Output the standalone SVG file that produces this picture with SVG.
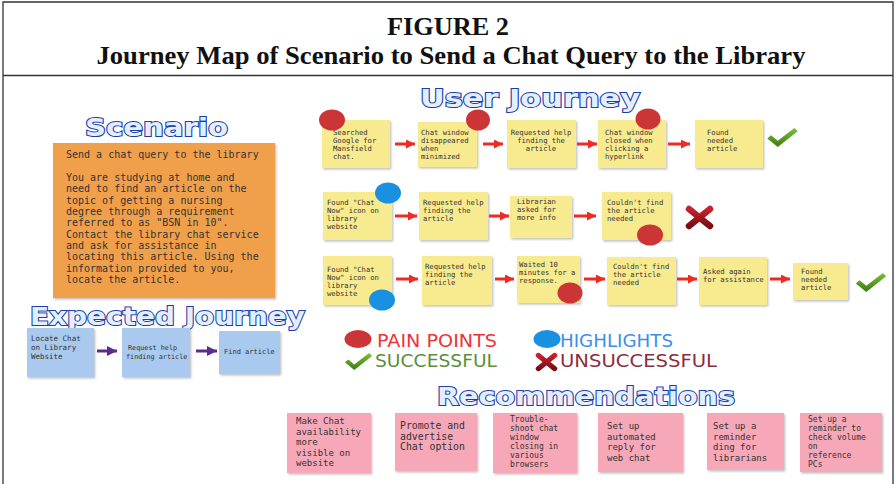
<svg xmlns="http://www.w3.org/2000/svg" width="896" height="484" viewBox="0 0 896 484">
<defs>
<style>
.frame{stroke:#333;stroke-width:1.3;fill:none}
.ttl{font-family:"Liberation Serif",serif;font-weight:bold;font-size:25px;fill:#111;text-anchor:middle}
.head{font-family:"DejaVu Sans",sans-serif;font-weight:bold;font-size:25px;fill:#e4eeff;stroke:#1a3fa8;stroke-width:2;paint-order:stroke}
.note{font-family:"DejaVu Sans Mono",monospace;font-size:7.2px;fill:#333}
.yel{fill:#F8EA8E;filter:url(#sh)}
.org{fill:#F0A04C;filter:url(#sh)}
.blu{fill:#A9C9EF;filter:url(#sh)}
.pnk{fill:#F6A8B8;filter:url(#sh)}
.pain{fill:#CC3535}
.hl{fill:#1A90E0}
.ra{stroke:#EE2A24;stroke-width:3;fill:none;marker-end:url(#ar)}
.pa{stroke:#5B2C8C;stroke-width:3;fill:none;marker-end:url(#ap)}
.leg{font-family:"DejaVu Sans",sans-serif;font-size:17px}
</style>
<filter id="sh" x="-10%" y="-10%" width="125%" height="125%">
<feDropShadow dx="1.2" dy="1.5" stdDeviation="1.2" flood-color="#000" flood-opacity="0.25"/>
</filter>
<marker id="ar" viewBox="0 0 10 10" refX="10" refY="5" markerWidth="9" markerHeight="9" markerUnits="userSpaceOnUse" orient="auto"><path d="M0,0 L10,5 L0,10 z" fill="#EE2A24"/></marker>
<marker id="ap" viewBox="0 0 10 10" refX="10" refY="5" markerWidth="10" markerHeight="10" markerUnits="userSpaceOnUse" orient="auto"><path d="M0,0 L10,5 L0,10 z" fill="#5B2C8C"/></marker>
<linearGradient id="gg" x1="0" y1="0" x2="0" y2="1"><stop offset="0" stop-color="#7CC23A"/><stop offset="1" stop-color="#3E7A10"/></linearGradient>
<linearGradient id="rg" x1="0" y1="0" x2="0" y2="1"><stop offset="0" stop-color="#C8222E"/><stop offset="1" stop-color="#7A0C14"/></linearGradient>
<symbol id="chk" viewBox="0 0 32 20" overflow="visible"><path d="M0,11 L4,7.5 L11,13.5 L28.5,0 L32,3.5 L11,20 Z" fill="url(#gg)"/></symbol>
<symbol id="xx" viewBox="0 0 27 23" overflow="visible"><path d="M3,3 L24,20 M24,3 L3,20" stroke="url(#rg)" stroke-width="6.5" stroke-linecap="round" fill="none"/></symbol>
</defs>

<rect width="896" height="484" fill="#fff"/>
<g id="frame">
<path class="frame" d="M3,484 L3,2 L893,2 L893,484 M3,75.5 L893,75.5"/>
<text class="ttl" x="448" y="35" textLength="122" lengthAdjust="spacingAndGlyphs">FIGURE 2</text>
<text class="ttl" x="451" y="64" textLength="709" lengthAdjust="spacingAndGlyphs">Journey Map of Scenario to Send a Chat Query to the Library</text>
</g>

<g id="headings">
<text class="head" x="85" y="136" textLength="143" lengthAdjust="spacingAndGlyphs">Scenario</text>
<text class="head" x="420" y="107" textLength="220" lengthAdjust="spacingAndGlyphs">User Journey</text>
<text class="head" x="30" y="325" textLength="275" lengthAdjust="spacingAndGlyphs">Expected Journey</text>
<text class="head" x="437" y="405" textLength="298" lengthAdjust="spacingAndGlyphs">Recommendations</text>
</g>

<g id="scenario">
<rect class="org" x="53" y="143" width="222" height="155"/>
<text style="font-family:'DejaVu Sans Mono',monospace;font-size:10px;fill:#333">
<tspan x="66" y="158">Send a chat query to the library</tspan>
<tspan x="66" y="181">You are studying at home and</tspan>
<tspan x="66" y="192">need to find an article on the</tspan>
<tspan x="66" y="203.5">topic of getting a nursing</tspan>
<tspan x="66" y="215">degree through a requirement</tspan>
<tspan x="66" y="226">referred to as "BSN in 10".</tspan>
<tspan x="66" y="237.5">Contact the library chat service</tspan>
<tspan x="66" y="249">and ask for assistance in</tspan>
<tspan x="66" y="260">locating this article. Using the</tspan>
<tspan x="66" y="271.5">information provided to you,</tspan>
<tspan x="66" y="283">locate the article.</tspan>
</text>
</g>

<g id="expected">
<g id="e1"><rect class="blu" x="27" y="328" width="67" height="49"/><text class="note" style="font-size:7.5px"><tspan x="31" y="341">Locate Chat</tspan><tspan x="31" y="350">on Library</tspan><tspan x="31" y="359">Website</tspan></text></g>
<g id="e2"><rect class="blu" x="122" y="328" width="68" height="49"/><text class="note" style="font-size:6.8px"><tspan x="128" y="350">Request help</tspan><tspan x="126" y="359">finding article</tspan></text></g>
<g id="e3"><rect class="blu" x="219" y="331" width="61" height="43"/><text class="note" style="font-size:7px"><tspan x="224" y="354">Find article</tspan></text></g>
</g>

<g id="row1">
<g id="u11"><rect class="yel" x="322" y="120" width="68" height="48"/><text class="note"><tspan x="333" y="135">Searched</tspan><tspan x="333" y="143">Google for</tspan><tspan x="333" y="151">Mansfield</tspan><tspan x="333" y="159">chat.</tspan></text><ellipse class="pain" cx="332" cy="120" rx="13" ry="10.5"/></g>
<g id="u12"><rect class="yel" x="418" y="122" width="59" height="45"/><text class="note"><tspan x="421" y="135">Chat window</tspan><tspan x="421" y="143">disappeared</tspan><tspan x="421" y="151">when</tspan><tspan x="421" y="159">minimized</tspan></text><ellipse class="pain" cx="478" cy="120" rx="12" ry="10.5"/></g>
<g id="u13"><rect class="yel" x="507" y="120" width="69" height="48"/><text class="note" text-anchor="middle"><tspan x="541" y="135">Requested help</tspan><tspan x="541" y="143">finding the</tspan><tspan x="541" y="151">article</tspan></text></g>
<g id="u14"><rect class="yel" x="598" y="120" width="68" height="48"/><text class="note"><tspan x="605" y="135">Chat window</tspan><tspan x="605" y="143">closed when</tspan><tspan x="605" y="151">clicking a</tspan><tspan x="605" y="159">hyperlink</tspan></text><ellipse class="pain" cx="648" cy="119" rx="12.5" ry="10.5"/></g>
<g id="u15"><rect class="yel" x="695" y="120" width="68" height="48"/><text class="note"><tspan x="707" y="135">Found</tspan><tspan x="707" y="143">needed</tspan><tspan x="707" y="151">article</tspan></text></g>
<use href="#chk" x="767" y="128" width="31" height="19"/>
</g>

<g id="row2">
<g id="u21"><rect class="yel" x="323" y="192" width="69" height="48"/><text class="note"><tspan x="327" y="205">Found "Chat</tspan><tspan x="327" y="213">Now" icon on</tspan><tspan x="327" y="221">library</tspan><tspan x="327" y="229">website</tspan></text><ellipse class="hl" cx="388" cy="193" rx="13" ry="10.5"/></g>
<g id="u22"><rect class="yel" x="419" y="192" width="69" height="48"/><text class="note"><tspan x="423" y="205">Requested help</tspan><tspan x="423" y="213">finding the</tspan><tspan x="423" y="221">article</tspan></text></g>
<g id="u23"><rect class="yel" x="510" y="196" width="62" height="42"/><text class="note"><tspan x="517" y="204">Librarian</tspan><tspan x="517" y="212">asked for</tspan><tspan x="517" y="220">more info</tspan></text></g>
<g id="u24"><rect class="yel" x="602" y="192" width="69" height="48"/><text class="note"><tspan x="607" y="205">Couldn't find</tspan><tspan x="607" y="213">the article</tspan><tspan x="607" y="221">needed</tspan></text><ellipse class="pain" cx="650" cy="235" rx="13" ry="10.5"/></g>
<use href="#xx" x="686" y="206" width="27" height="23"/>
</g>

<g id="row3">
<g id="u31"><rect class="yel" x="323" y="256" width="69" height="49"/><text class="note"><tspan x="327" y="272">Found "Chat</tspan><tspan x="327" y="280">Now" icon on</tspan><tspan x="327" y="288">library</tspan><tspan x="327" y="296">website</tspan></text><ellipse class="hl" cx="382" cy="300" rx="13" ry="10.5"/></g>
<g id="u32"><rect class="yel" x="422" y="256" width="70" height="49"/><text class="note"><tspan x="425" y="269">Requested help</tspan><tspan x="425" y="277">finding the</tspan><tspan x="425" y="285">article</tspan></text></g>
<g id="u33"><rect class="yel" x="517" y="256" width="63" height="47"/><text class="note"><tspan x="519" y="267">Waited 10</tspan><tspan x="519" y="275">minutes for a</tspan><tspan x="519" y="283">response.</tspan></text><ellipse class="pain" cx="570" cy="293" rx="12.5" ry="10.5"/></g>
<g id="u34"><rect class="yel" x="607" y="257" width="69" height="48"/><text class="note"><tspan x="613" y="269">Couldn't find</tspan><tspan x="613" y="277">the article</tspan><tspan x="613" y="285">needed</tspan></text></g>
<g id="u35"><rect class="yel" x="699" y="257" width="68" height="48"/><text class="note"><tspan x="703" y="274">Asked again</tspan><tspan x="703" y="282">for assistance</tspan></text></g>
<g id="u36"><rect class="yel" x="793" y="263" width="55" height="37"/><text class="note"><tspan x="801" y="274">Found</tspan><tspan x="801" y="282">needed</tspan><tspan x="801" y="290">article</tspan></text></g>
<use href="#chk" x="855" y="273" width="32" height="19"/>
</g>

<g id="connectors">
<line class="ra" x1="395" y1="144" x2="415" y2="144"/>
<line class="ra" x1="483" y1="144" x2="503" y2="144"/>
<line class="ra" x1="577" y1="144" x2="597" y2="144"/>
<line class="ra" x1="668" y1="144" x2="690" y2="144"/>
<line class="ra" x1="395" y1="216" x2="417" y2="216"/>
<line class="ra" x1="489" y1="216" x2="509" y2="216"/>
<line class="ra" x1="574" y1="216" x2="596" y2="216"/>
<line class="ra" x1="396" y1="279" x2="418" y2="279"/>
<line class="ra" x1="495" y1="279" x2="514" y2="279"/>
<line class="ra" x1="584" y1="279" x2="605" y2="279"/>
<line class="ra" x1="677" y1="279" x2="697" y2="279"/>
<line class="ra" x1="770" y1="279" x2="790" y2="279"/>
<line class="pa" x1="97" y1="351" x2="117" y2="351"/>
<line class="pa" x1="196" y1="351" x2="217" y2="351"/>
</g>

<g id="legend">
<ellipse class="pain" cx="358" cy="339" rx="13.5" ry="9"/>
<text class="leg" x="377" y="347" fill="#EE3333" textLength="120" lengthAdjust="spacingAndGlyphs">PAIN POINTS</text>
<ellipse class="hl" cx="547" cy="339" rx="13.5" ry="9"/>
<text class="leg" x="560" y="347" fill="#3A8FE8" textLength="113" lengthAdjust="spacingAndGlyphs">HIGHLIGHTS</text>
<use href="#chk" x="343" y="353" width="31" height="17"/>
<text class="leg" x="375" y="367" fill="#5B8F3A" textLength="122" lengthAdjust="spacingAndGlyphs">SUCCESSFUL</text>
<use href="#xx" x="533" y="353" width="27" height="18"/>
<text class="leg" x="560" y="367" fill="#8B2D3A" textLength="157" lengthAdjust="spacingAndGlyphs">UNSUCCESSFUL</text>
</g>

<g id="recommendations">
<g id="r1"><rect class="pnk" x="287" y="413" width="84" height="60"/><text class="note" style="font-size:9px"><tspan x="296" y="424">Make Chat</tspan><tspan x="296" y="434.5">availability</tspan><tspan x="296" y="445">more</tspan><tspan x="296" y="455.5">visible on</tspan><tspan x="296" y="466">website</tspan></text></g>
<g id="r2"><rect class="pnk" x="395" y="413" width="82" height="58"/><text class="note" style="font-size:9.8px"><tspan x="400" y="429">Promote and</tspan><tspan x="400" y="439.5">advertise</tspan><tspan x="400" y="450">Chat option</tspan></text></g>
<g id="r3"><rect class="pnk" x="493" y="413" width="84" height="60"/><text class="note" style="font-size:8px"><tspan x="510" y="422">Trouble-</tspan><tspan x="510" y="431">shoot chat</tspan><tspan x="510" y="440">window</tspan><tspan x="510" y="449">closing in</tspan><tspan x="510" y="458">various</tspan><tspan x="510" y="467">browsers</tspan></text></g>
<g id="r4"><rect class="pnk" x="598" y="413" width="85" height="59"/><text class="note" style="font-size:9px"><tspan x="607" y="429">Set up</tspan><tspan x="607" y="439.5">automated</tspan><tspan x="607" y="450">reply for</tspan><tspan x="607" y="460.5">web chat</tspan></text></g>
<g id="r5"><rect class="pnk" x="707" y="413" width="77" height="57"/><text class="note" style="font-size:9px"><tspan x="713" y="429">Set up a</tspan><tspan x="713" y="439.5">reminder</tspan><tspan x="713" y="450">ding for</tspan><tspan x="713" y="460.5">librarians</tspan></text></g>
<g id="r6"><rect class="pnk" x="800" y="413" width="82" height="59"/><text class="note" style="font-size:8px"><tspan x="808" y="422">Set up a</tspan><tspan x="808" y="431">reminder to</tspan><tspan x="808" y="440">check volume</tspan><tspan x="808" y="449">on</tspan><tspan x="808" y="458">reference</tspan><tspan x="808" y="467">PCs</tspan></text></g>
</g>
</svg>
